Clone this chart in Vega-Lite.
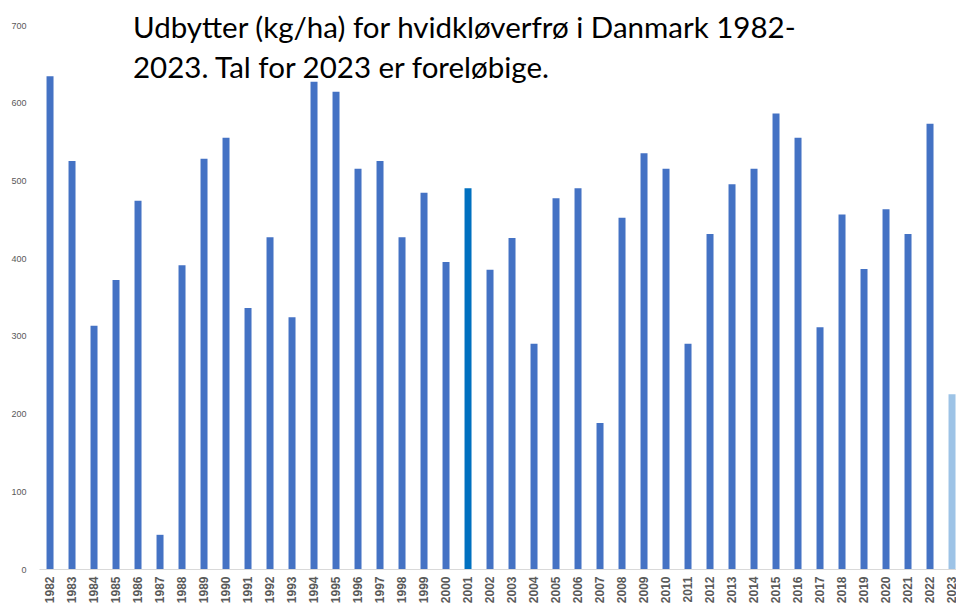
{
  "$schema": "https://vega.github.io/schema/vega-lite/v6.json",
  "autosize": "none",
  "width": 917,
  "height": 544,
  "padding": {"left": 39, "top": 25, "right": 0, "bottom": 36},
  "background": "white",
  "title": {
    "text": ["Udbytter (kg/ha) for hvidkløverfrø i Danmark 1982-", "2023. Tal for 2023 er foreløbige."],
    "anchor": "start",
    "frame": "group",
    "orient": "top",
    "font": "Lato",
    "fontSize": 29.5,
    "fontWeight": "normal",
    "color": "#000000",
    "lineHeight": 40,
    "baseline": "top",
    "dx": 94,
    "dy": 63,
    "offset": 0
  },
  "config": {"view": {"stroke": null}},
  "data": {
    "values": [
      {"year": "1982", "yield": 634, "status": "normal"},
      {"year": "1983", "yield": 525, "status": "normal"},
      {"year": "1984", "yield": 313, "status": "normal"},
      {"year": "1985", "yield": 372, "status": "normal"},
      {"year": "1986", "yield": 474, "status": "normal"},
      {"year": "1987", "yield": 44, "status": "normal"},
      {"year": "1988", "yield": 391, "status": "normal"},
      {"year": "1989", "yield": 528, "status": "normal"},
      {"year": "1990", "yield": 555, "status": "normal"},
      {"year": "1991", "yield": 336, "status": "normal"},
      {"year": "1992", "yield": 427, "status": "normal"},
      {"year": "1993", "yield": 324, "status": "normal"},
      {"year": "1994", "yield": 627, "status": "normal"},
      {"year": "1995", "yield": 614, "status": "normal"},
      {"year": "1996", "yield": 515, "status": "normal"},
      {"year": "1997", "yield": 525, "status": "normal"},
      {"year": "1998", "yield": 427, "status": "normal"},
      {"year": "1999", "yield": 484, "status": "normal"},
      {"year": "2000", "yield": 395, "status": "normal"},
      {"year": "2001", "yield": 490, "status": "highlight"},
      {"year": "2002", "yield": 385, "status": "normal"},
      {"year": "2003", "yield": 426, "status": "normal"},
      {"year": "2004", "yield": 290, "status": "normal"},
      {"year": "2005", "yield": 477, "status": "normal"},
      {"year": "2006", "yield": 490, "status": "normal"},
      {"year": "2007", "yield": 188, "status": "normal"},
      {"year": "2008", "yield": 452, "status": "normal"},
      {"year": "2009", "yield": 535, "status": "normal"},
      {"year": "2010", "yield": 515, "status": "normal"},
      {"year": "2011", "yield": 290, "status": "normal"},
      {"year": "2012", "yield": 431, "status": "normal"},
      {"year": "2013", "yield": 495, "status": "normal"},
      {"year": "2014", "yield": 515, "status": "normal"},
      {"year": "2015", "yield": 586, "status": "normal"},
      {"year": "2016", "yield": 555, "status": "normal"},
      {"year": "2017", "yield": 311, "status": "normal"},
      {"year": "2018", "yield": 456, "status": "normal"},
      {"year": "2019", "yield": 386, "status": "normal"},
      {"year": "2020", "yield": 463, "status": "normal"},
      {"year": "2021", "yield": 431, "status": "normal"},
      {"year": "2022", "yield": 573, "status": "normal"},
      {"year": "2023", "yield": 225, "status": "preliminary"}
    ]
  },
  "mark": {"type": "bar"},
  "encoding": {
    "x": {
      "field": "year",
      "type": "ordinal",
      "sort": null,
      "scale": {"paddingInner": 0.682, "paddingOuter": 0.182, "align": 0.94},
      "axis": {
        "title": null,
        "labelAngle": 270,
        "labelAlign": "right",
        "labelBaseline": "middle",
        "labelFont": "Liberation Sans",
        "labelFontSize": 12,
        "labelFontWeight": "bold",
        "labelColor": "#595959",
        "labelPadding": 7,
        "labelOverlap": false,
        "ticks": false,
        "domainColor": "#D9D9D9",
        "domainWidth": 1,
        "grid": false
      }
    },
    "y": {
      "field": "yield",
      "type": "quantitative",
      "scale": {"domain": [0, 700], "nice": false},
      "axis": {
        "title": null,
        "values": [0, 100, 200, 300, 400, 500, 600, 700],
        "labelFont": "Liberation Sans",
        "labelFontSize": 9,
        "labelColor": "#595959",
        "labelPadding": 13,
        "ticks": false,
        "domain": false,
        "grid": false
      }
    },
    "color": {
      "field": "status",
      "type": "nominal",
      "scale": {"domain": ["normal", "highlight", "preliminary"], "range": ["#4472C4", "#0070C0", "#9DC3E6"]},
      "legend": null
    }
  }
}
